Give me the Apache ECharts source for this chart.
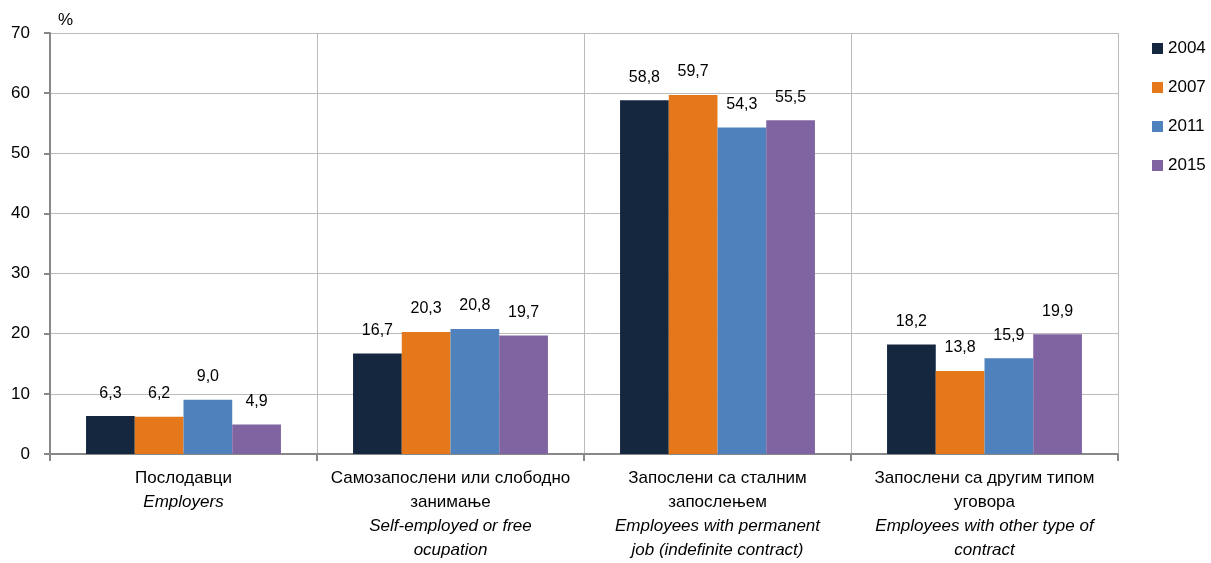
<!DOCTYPE html>
<html><head><meta charset="utf-8">
<script src="https://cdn.jsdelivr.net/npm/echarts@6/dist/echarts.min.js"></script>
<style>html,body{margin:0;padding:0;background:#fff}#c{width:1211px;height:563px}</style>
</head><body><div id="c"></div>
<script>
const categories = [
  '{n|Послодавци}\n{i|Employers}',
  '{n|Самозапослени или слободно}\n{n|занимање}\n{i|Self-employed or free}\n{i|ocupation}',
  '{n|Запослени са сталним}\n{n|запослењем}\n{i|Employees with permanent}\n{i|job (indefinite contract)}',
  '{n|Запослени са другим типом}\n{n|уговора}\n{i|Employees with other type of}\n{i|contract}'
];
const years = ['2004', '2007', '2011', '2015'];
const v2004 = [6.3, 16.7, 58.8, 18.2];
const v2007 = [6.2, 20.3, 59.7, 13.8];
const v2011 = [9.0, 20.8, 54.3, 15.9];
const v2015 = [4.9, 19.7, 55.5, 19.9];
const yTicks = [0, 10, 20, 30, 40, 50, 60, 70];
const colors = ['#14273F', '#E4781A', '#4F81BD', '#8064A2'];
const FONT = 'Liberation Sans';
const values = [v2004, v2007, v2011, v2015];

const chart = echarts.init(document.getElementById('c'));
chart.setOption({
  animation: false,
  textStyle: { fontFamily: FONT },
  title: { text: '%', left: 53, top: 7, textStyle: { fontFamily: FONT, fontSize: 17, fontWeight: 'normal', color: '#000' } },
  legend: {
    orient: 'vertical', left: 1147, top: 35, itemGap: 22, itemWidth: 11, itemHeight: 11,
    icon: 'rect', data: years,
    textStyle: { fontFamily: FONT, fontSize: 17, color: '#000' }
  },
  grid: { left: 50, top: 33, right: 93, bottom: 109 },
  xAxis: {
    type: 'category', data: categories,
    axisLine: { lineStyle: { color: '#888', width: 2 } },
    axisTick: { show: true, length: 7, lineStyle: { color: '#888', width: 2 } },
    splitLine: { show: true, lineStyle: { color: '#bbb', width: 1 } },
    axisLabel: {
      interval: 0, margin: 12, color: '#000', lineHeight: 24,
      rich: {
        n: { fontFamily: FONT, fontSize: 17, color: '#000', lineHeight: 24 },
        i: { fontFamily: FONT, fontSize: 17, fontStyle: 'italic', color: '#000', lineHeight: 24 }
      }
    }
  },
  yAxis: {
    type: 'value', min: 0, max: 70, interval: 10,
    axisLine: { show: true, lineStyle: { color: '#888', width: 2 } },
    axisTick: { show: true, length: 6, lineStyle: { color: '#888', width: 2 } },
    splitLine: { show: true, lineStyle: { color: '#bbb', width: 1 } },
    axisLabel: { color: '#000', fontFamily: FONT, fontSize: 17, margin: 20,
      formatter: v => yTicks.includes(v) ? String(v) : '' }
  },
  series: years.map((y, k) => ({
    name: y, type: 'bar', data: values[k],
    barGap: '0%', barCategoryGap: '27%',
    itemStyle: { color: colors[k] },
    label: {
      show: true, position: 'top', distance: 15, color: '#000',
      fontFamily: FONT, fontSize: 16,
      formatter: p => p.value.toFixed(1).replace('.', ',')
    }
  }))
});
</script></body></html>
